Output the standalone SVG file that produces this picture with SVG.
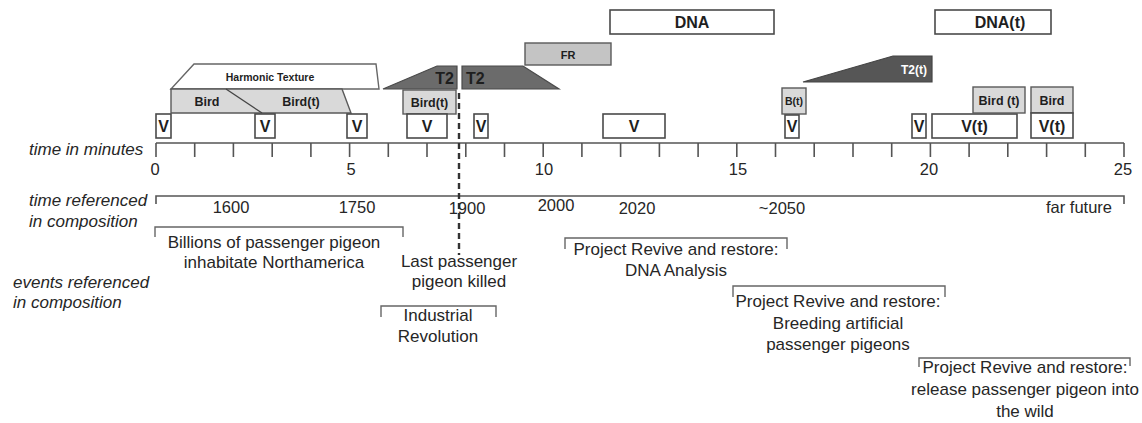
<svg xmlns="http://www.w3.org/2000/svg" width="1142" height="423" viewBox="0 0 1142 423">
<style>
.box{fill:#fff;stroke:#4a4a4a;stroke-width:1.6}
.lg{fill:#d9d9d9;stroke:#5a5a5a;stroke-width:1.4}
.fr{fill:#c4c4c4;stroke:#5a5a5a;stroke-width:1.4}
.dk{fill:#6b6b6b;stroke:#4a4a4a;stroke-width:1.2}
.dk2{fill:#565656;stroke:#444;stroke-width:1.2}
.ax{fill:none;stroke:#555;stroke-width:1.6}
.br{fill:none;stroke:#666;stroke-width:1.4}
.dash{fill:none;stroke:#333;stroke-width:2.4;stroke-dasharray:6 4}
.b{font-family:"Liberation Sans",Arial,sans-serif;font-weight:bold;fill:#1e1e1e;text-anchor:middle}
.v{font-size:16px}
.s{font-size:12.5px}
.t{font-family:"Liberation Sans",Arial,sans-serif;font-size:17px;fill:#262626;text-anchor:middle}
.n{font-family:"Liberation Sans",Arial,sans-serif;font-size:16.5px;fill:#262626;text-anchor:middle}
.i{font-family:"Liberation Sans",Arial,sans-serif;font-size:17px;font-style:italic;fill:#262626}
</style>
<rect width="1142" height="423" fill="#fff"/>

<g id="connectors">
<path class="ax" d="M156,143H1124M156,143V157M194.7,143V157M233.4,143V157M272.2,143V157M310.9,143V157M349.6,143V157M388.3,143V157M427,143V157M465.8,143V157M504.5,143V157M543.2,143V157M581.9,143V157M620.6,143V157M659.4,143V157M698.1,143V157M736.8,143V157M775.5,143V157M814.2,143V157M853,143V157M891.7,143V157M930.4,143V157M969.1,143V157M1007.8,143V157M1046.6,143V157M1085.3,143V157M1124,143V157"/>
<path class="ax" d="M156,204V196H1124V204"/>
<path class="dash" d="M459,93V255"/>
<path class="br" d="M155,237V227H403V237"/>
<path class="br" d="M381,317V306H496V317"/>
<path class="br" d="M565,249V238H787V249"/>
<path class="br" d="M733,297V286H945V297"/>
<path class="br" d="M919,367V358H1130V366"/>
</g>

<g id="labels">
<text class="i" x="29" y="155">time in minutes</text>
<text class="i" x="29" y="206">time referenced</text>
<text class="i" x="29" y="227">in composition</text>
<text class="i" x="13" y="288">events referenced</text>
<text class="i" x="13" y="308">in composition</text>
<text class="n" x="155" y="175">0</text>
<text class="n" x="351" y="175">5</text>
<text class="n" x="544" y="175">10</text>
<text class="n" x="738" y="175">15</text>
<text class="n" x="929" y="175">20</text>
<text class="n" x="1123" y="175">25</text>
<text class="n" x="231" y="213">1600</text>
<text class="n" x="357" y="213">1750</text>
<text class="n" x="467" y="214">1900</text>
<text class="n" x="556" y="211">2000</text>
<text class="n" x="637" y="214">2020</text>
<text class="n" x="782" y="214">~2050</text>
<text class="n" x="1079" y="213">far future</text>
</g>

<g id="event-billions"><text class="t" x="274" y="248">Billions of passenger pigeon</text><text class="t" x="274" y="268">inhabitate Northamerica</text></g>
<g id="event-last"><text class="t" x="459" y="267">Last passenger</text><text class="t" x="459" y="287">pigeon killed</text></g>
<g id="event-industrial"><text class="t" x="438" y="321">Industrial</text><text class="t" x="438" y="342">Revolution</text></g>
<g id="event-dna"><text class="t" x="676" y="255">Project Revive and restore:</text><text class="t" x="676" y="276">DNA Analysis</text></g>
<g id="event-breeding"><text class="t" x="838" y="307">Project Revive and restore:</text><text class="t" x="838" y="329">Breeding artificial</text><text class="t" x="838" y="350">passenger pigeons</text></g>
<g id="event-release"><text class="t" x="1025" y="373">Project Revive and restore:</text><text class="t" x="1025" y="395">release passenger pigeon into</text><text class="t" x="1025" y="417">the wild</text></g>

<g id="harmonic"><polygon points="194,64 376,64 379,89 171,89" fill="#fff" stroke="#666" stroke-width="1.4"/><text class="b" x="270" y="81" font-size="10.5">Harmonic Texture</text></g>
<g id="bird1"><polygon class="lg" points="171,89 342,89 351,113 171,113"/><line x1="226" y1="89" x2="262" y2="113" stroke="#444" stroke-width="1.3"/><text class="b s" x="207" y="106">Bird</text><text class="b s" x="301" y="106">Bird(t)</text></g>
<g id="v1"><rect class="box" x="156" y="114" width="15" height="24"/><text class="b v" x="163.5" y="132">V</text></g>
<g id="v2"><rect class="box" x="255" y="114" width="20" height="24"/><text class="b v" x="265" y="132">V</text></g>
<g id="v3"><rect class="box" x="347" y="114" width="20" height="24"/><text class="b v" x="357" y="132">V</text></g>
<g id="t2a"><polygon class="dk" points="383,89 437,66 457,66 457,89"/><text class="b" x="454" y="84" font-size="16" text-anchor="end" style="text-anchor:end">T2</text></g>
<g id="bird2"><rect class="lg" x="403" y="90" width="53" height="24"/><text class="b s" x="429.5" y="107">Bird(t)</text></g>
<g id="v4"><rect class="box" x="407" y="114" width="40" height="24"/><text class="b v" x="427" y="132">V</text></g>
<g id="t2b"><polygon class="dk" points="462,66 523,66 559,89 462,89"/><text class="b" x="466" y="84" font-size="16" style="text-anchor:start">T2</text></g>
<g id="v5"><rect class="box" x="474" y="114" width="14" height="24"/><text class="b v" x="481" y="132">V</text></g>
<g id="fr"><rect class="fr" x="525" y="43" width="86" height="22"/><text class="b" x="568" y="59" font-size="11">FR</text></g>
<g id="dna"><rect class="box" x="610" y="10" width="164" height="24"/><text class="b v" x="692" y="28">DNA</text></g>
<g id="v6"><rect class="box" x="603" y="114" width="62" height="24"/><text class="b v" x="634" y="132">V</text></g>
<g id="bt"><rect class="lg" x="782" y="88" width="24" height="26"/><text class="b" x="794" y="105" font-size="10.5">B(t)</text></g>
<g id="v7"><rect class="box" x="785" y="115" width="14" height="23"/><text class="b v" x="792" y="132">V</text></g>
<g id="t2t"><polygon class="dk2" points="803,82 893,56 932,56 932,82"/><text class="b" x="914" y="74" font-size="12" style="fill:#fff">T2(t)</text></g>
<g id="v8"><rect class="box" x="912" y="114" width="14" height="24"/><text class="b v" x="919" y="132">V</text></g>
<g id="vt1"><rect class="box" x="932" y="114" width="85" height="24"/><text class="b v" x="974.5" y="132">V(t)</text></g>
<g id="bird3"><rect class="lg" x="973" y="87" width="52" height="26"/><text class="b s" x="999" y="105">Bird (t)</text></g>
<g id="bird4"><rect class="lg" x="1031" y="87" width="42" height="26"/><text class="b s" x="1052" y="105">Bird</text></g>
<g id="vt2"><rect class="box" x="1031" y="113" width="42" height="25"/><text class="b v" x="1052" y="132">V(t)</text></g>
<g id="dnat"><rect class="box" x="935" y="10" width="116" height="24"/><text class="b v" x="1000" y="28">DNA(t)</text></g>
</svg>
